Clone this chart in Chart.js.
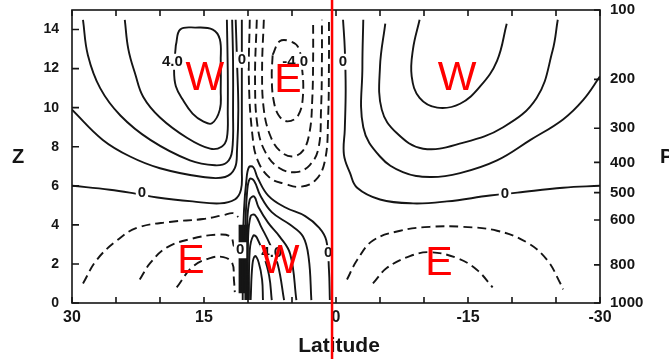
<!DOCTYPE html>
<html>
<head>
<meta charset="utf-8">
<script src="https://cdn.jsdelivr.net/npm/chart.js@4.4.1/dist/chart.umd.min.js"></script>
<style>
  html, body { margin: 0; padding: 0; background: #fff; }
</style>
</head>
<body>
<canvas id="grafik" width="669" height="359"></canvas>
<script>
// eksen degerleri
const latTicks = [30, 25, 20, 15, 10, 5, 0, -5, -10, -15, -20, -25, -30];
const latLabels = [30, 15, 0, -15, -30];
const zTicks = [0, 2, 4, 6, 8, 10, 12, 14];
const pressureLevels = [100, 200, 300, 400, 500, 600, 800, 1000];
const pressureHeights = [15, 11.45, 8.95, 7.2, 5.65, 4.25, 1.95, 0];

// kuzey batili jet (duz cizgiler) [enlem, z]
const wN40 = [[18.2,13.2],[17.7,14],[16,14.1],[14,14],[13.2,13.5],[13.1,12.4],[13.1,10.9],[13.2,9.9],[14.1,9.2],[15.1,9.3],[16.3,9.7],[17.4,10.4],[18.2,11.1],[18.4,11.9],[18.2,13.2]];
const wN30 = [[24,14.5],[23.6,13],[22.8,11.7],[21.9,10.55],[20,9.5],[16.9,8.45],[14.3,7.9],[13,8],[12.4,8.45],[12.3,9.9],[12.3,11.9],[12.4,14.5]];
const wN20 = [[28.75,14.5],[28.2,12.7],[26.8,11],[24.5,9.6],[21.1,8.35],[16.6,7.3],[13.75,7.05],[12.4,7.2],[11.8,7.8],[11.7,9.9],[11.7,12.4],[11.8,14.5]];
const wN10 = [[30,9.9],[26.5,8.35],[23.4,7.5],[20,6.9],[15.1,6.45],[12.6,6.45],[11.5,6.9],[11.25,7.8],[11.1,9.9],[11.25,12.4],[11.4,14.5]];
const zeroN = [[30,6],[25.7,5.8],[22.8,5.6],[20.3,5.4],[16.3,5.2],[13.2,5.1],[11.5,5.3],[10.8,5.8],[10.7,6.8],[10.7,9.3],[10.7,11.4],[10.7,14.5]];

// ust dogulu bolge (kesikli)
const eTop40 = [[7.2,12.7],[6.4,13.4],[5.2,13.4],[4.3,13.1],[3.9,12.2],[3.75,10.65],[4.3,9.6],[5.5,9.3],[6.5,9.6],[7.1,10.4],[7.3,11.6],[7.2,12.7]];
const eTop30 = [[8.2,14.5],[8.4,11.9],[8.2,9.9],[7.5,8.6],[6.4,7.8],[5,7.5],[3.75,7.8],[3,8.75],[2.7,10.4],[2.6,12.4],[2.6,14.5]];
const eTop20 = [[9,14.5],[9.2,11.4],[8.9,9],[8,7.7],[6.4,6.9],[4.5,6.7],[3,7.05],[2,7.9],[1.7,9.9],[1.6,12.4],[1.6,14.5]];
const eTop10 = [[9.8,14.5],[9.9,11.4],[9.5,8.6],[8.9,7.3],[7.5,6.4],[5.8,6.1],[4.1,5.95],[2.3,6.3],[1.25,7.3],[0.9,9.4],[0.8,12.4],[0.8,14.5]];

// guney batili jet
const zeroS = [[-0.8,14.5],[-1,13],[-1.1,10.9],[-1,8.9],[-0.9,7.6],[-1.6,6.65],[-2.4,5.9],[-5,5.3],[-8.75,5.1],[-12.6,5.2],[-17.5,5.5],[-20.6,5.65],[-25.8,5.9],[-30,6]];
const wS10 = [[-3.1,14.5],[-3,12.1],[-3.1,9],[-5,7.5],[-7.6,6.7],[-10.7,6.45],[-14.1,6.65],[-18.3,7.3],[-22.1,8.35],[-25.8,9.4],[-28.1,10.4],[-30,11.6]];
const wS20 = [[-5.6,14.3],[-5,12.1],[-5.2,9.9],[-6.9,8.7],[-9.9,7.9],[-14.4,8.2],[-19,9],[-22.8,10.5],[-24.6,12.9],[-25.2,14.5]];
const wS30 = [[-9.5,14.5],[-8.75,13],[-8.6,11.6],[-9.5,10.5],[-11.5,10],[-14.1,10.2],[-16.4,11.1],[-18.3,12.4],[-19.4,14.3]];

// alt dogulu bolgeler (kesikli)
const eS10 = [[-1.25,1.2],[-2.4,2.2],[-4.2,3.2],[-7.3,3.7],[-10.7,3.9],[-14.4,3.9],[-18.3,3.7],[-21.7,3.1],[-24,2.2],[-25.5,1],[-25.8,0.7]];
const eS20 = [[-4.2,1],[-5.8,1.8],[-8.4,2.4],[-10.7,2.6],[-13.75,2.3],[-16,1.7],[-17.8,0.8]];
const eN10 = [[28.75,1],[27.2,2.2],[24.9,3.2],[22.6,3.85],[18.9,4.15],[15.1,4.3],[12.8,4.5],[11.7,4.6],[11.1,4.4]];
const eN20 = [[22.3,1.2],[21.1,2.05],[19.2,2.85],[16.3,3.3],[13.5,3.5],[12,3.4],[11.6,2.9]];
const eN30 = [[18.1,0.8],[16.3,1.85],[14.3,2.3],[12.8,2.35],[11.8,2.05],[11.6,1.2],[11.5,0.56]];

// alt batili bolge (duz)
const zeroLow = [[10.6,0.15],[10.6,2.7],[10.45,4.8],[10.2,6.2],[9.9,6.95],[9.4,6.95],[8.9,6.4],[7.7,5.5],[5.8,4.9],[3.5,4.45],[1.9,3.85],[1.1,3.2],[0.8,1.7],[0.7,0.15]];
const wLow10 = [[10.3,0.15],[10.3,3.7],[10.1,5.7],[9.8,6.35],[9.3,6.25],[8.6,5.5],[7.3,4.65],[5.2,4],[3.75,3.4],[3.1,2.3],[2.8,0.15]];
const wLow20 = [[10.2,0.15],[10.1,4],[9.8,5.3],[9.3,5.45],[8.8,4.9],[7.7,4.1],[6.4,3.4],[5.2,2.5],[4.5,0.15]];
const wLow30 = [[10.1,0.15],[10,3.2],[9.7,4.45],[9.2,4.5],[8.5,3.9],[7.5,3],[6.6,1.95],[5.9,0.15]];
const wLow40 = [[9.9,0.15],[9.8,2.7],[9.4,3.45],[9,3.35],[8.3,2.55],[7.6,1.4],[7.3,0.15]];
const wLow50 = [[9.7,0.15],[9.5,1.95],[9.2,2.4],[8.8,2.1],[8.4,1.2],[8.3,0.15]];
const bundle = [[10.5,4.0],[10.5,0.5]];

// cizgi uzerindeki etiketler
const contourLabels = [
  { x: 18.6, y: 12.35, t: "4.0" },
  { x: 4.65, y: 12.35, t: "-4.0" },
  { x: 10.7, y: 12.45, t: "0" },
  { x: -0.8, y: 12.35, t: "0" },
  { x: 22.05, y: 5.63, t: "0" },
  { x: -19.2, y: 5.58, t: "0" },
  { x: 10.9, y: 2.7, t: "0" },
  { x: 0.9, y: 2.55, t: "0" },
  { x: 7.3, y: 2.55, t: "4.0" }
];

// kirmizi notlar
const windLetters = [
  { x: 14.9, y: 11.5, t: "W" },
  { x: 5.45, y: 11.4, t: "E" },
  { x: -13.75, y: 11.5, t: "W" },
  { x: 16.5, y: 2.1, t: "E" },
  { x: 6.35, y: 2.1, t: "W" },
  { x: -11.7, y: 2.0, t: "E" }
];
const redLineLat = 0.45;

const solidLines = [wN40, wN30, wN20, wN10, zeroN, zeroS, wS10, wS20, wS30, zeroLow, wLow10, wLow20, wLow30, wLow40, wLow50];
const dashedLines = [eTop40, eTop30, eTop20, eTop10, eS10, eS20, eN10, eN20, eN30];

const ink = "#151515";

function seriYap(pts, dashed) {
  return {
    data: pts.map(p => ({ x: p[0], y: p[1] })),
    showLine: true,
    borderColor: ink,
    borderWidth: 1.9,
    borderDash: dashed ? [9, 5] : [],
    pointRadius: 0,
    tension: 0.4,
    fill: false
  };
}

const datasets = [];
solidLines.forEach(l => datasets.push(seriYap(l, false)));
dashedLines.forEach(l => datasets.push(seriYap(l, true)));
const kalin = seriYap(bundle, false);
kalin.borderWidth = 10;
kalin.tension = 0;
datasets.push(kalin);

// cerceve, ic tikler, etiketler
const cizimEklentisi = {
  id: "cizim",
  afterDatasetsDraw(chart) {
    const ctx = chart.ctx;
    const xs = chart.scales.x, ys = chart.scales.y;
    ctx.save();
    ctx.font = "bold 15px 'Liberation Sans', Arial, sans-serif";
    ctx.textAlign = "center";
    ctx.textBaseline = "middle";
    contourLabels.forEach(l => {
      const px = xs.getPixelForValue(l.x), py = ys.getPixelForValue(l.y);
      const w = ctx.measureText(l.t).width;
      ctx.fillStyle = "#fff";
      ctx.fillRect(px - w / 2 - 2, py - 8, w + 4, 16);
      ctx.fillStyle = ink;
      ctx.fillText(l.t, px, py);
    });
    ctx.restore();
  },
  afterDraw(chart) {
    const ctx = chart.ctx;
    const a = chart.chartArea;
    const xs = chart.scales.x, ys = chart.scales.y;
    ctx.save();
    ctx.strokeStyle = ink;
    ctx.lineWidth = 1.6;
    ctx.strokeRect(a.left, a.top, a.right - a.left, a.bottom - a.top);
    ctx.beginPath();
    latTicks.forEach(v => {
      const px = xs.getPixelForValue(v);
      ctx.moveTo(px, a.bottom); ctx.lineTo(px, a.bottom - 6);
      ctx.moveTo(px, a.top); ctx.lineTo(px, a.top + 6);
    });
    zTicks.forEach(v => {
      const py = ys.getPixelForValue(v);
      ctx.moveTo(a.left, py); ctx.lineTo(a.left + 7, py);
    });
    pressureHeights.forEach(v => {
      const py = ys.getPixelForValue(v);
      ctx.moveTo(a.right, py); ctx.lineTo(a.right - 6, py);
    });
    ctx.stroke();

    ctx.fillStyle = ink;
    ctx.textBaseline = "middle";
    ctx.font = "bold 21px 'Liberation Sans', Arial, sans-serif";
    ctx.textAlign = "center";
    ctx.fillText("Latitude", (a.left + a.right) / 2 + 3, 346);
    ctx.font = "bold 20px 'Liberation Sans', Arial, sans-serif";
    ctx.fillText("Z", 18, 157);
    ctx.textAlign = "left";
    ctx.fillText("P", 660, 157);

    ctx.fillStyle = "#ff0000";
    ctx.textAlign = "center";
    ctx.font = "41px 'Liberation Sans', Arial, sans-serif";
    windLetters.forEach(l => {
      ctx.fillText(l.t, xs.getPixelForValue(l.x), ys.getPixelForValue(l.y));
    });

    const rx = xs.getPixelForValue(redLineLat);
    ctx.strokeStyle = "#ff0000";
    ctx.lineWidth = 2.5;
    ctx.beginPath();
    ctx.moveTo(rx, 0);
    ctx.lineTo(rx, chart.height);
    ctx.stroke();
    ctx.restore();
  }
};

const tickFont = { family: "'Liberation Sans', Arial, sans-serif", weight: "bold" };
const noGrid = { display: false, drawTicks: false };

new Chart(document.getElementById("grafik"), {
  type: "scatter",
  data: { datasets },
  options: {
    responsive: false,
    animation: false,
    layout: { padding: { top: 10, left: 0, right: 0, bottom: 0 } },
    plugins: { legend: { display: false }, tooltip: { enabled: false } },
    scales: {
      x: {
        type: "linear", min: -30, max: 30, reverse: true,
        grid: noGrid, border: { display: false },
        afterBuildTicks: s => { s.ticks = latLabels.map(v => ({ value: v })); },
        ticks: { color: ink, padding: 5, font: { ...tickFont, size: 16 }, maxRotation: 0 },
        afterFit: s => { s.height = 56; s.paddingLeft = 0; s.paddingRight = 0; }
      },
      y: {
        type: "linear", min: 0, max: 15, position: "left",
        grid: noGrid, border: { display: false },
        afterBuildTicks: s => { s.ticks = zTicks.map(v => ({ value: v })); },
        ticks: { color: ink, padding: 13, font: { ...tickFont, size: 14 } },
        afterFit: s => { s.width = 72; s.paddingTop = 0; s.paddingBottom = 0; }
      },
      y2: {
        type: "linear", min: 0, max: 15, position: "right",
        grid: noGrid, border: { display: false },
        afterBuildTicks: s => { s.ticks = pressureHeights.map(v => ({ value: v })); },
        ticks: { color: ink, padding: 10, font: { ...tickFont, size: 15 },
          callback: (v, i) => pressureLevels[i] },
        afterFit: s => { s.width = 69; s.paddingTop = 0; s.paddingBottom = 0; }
      }
    }
  },
  plugins: [cizimEklentisi]
});
</script>
</body>
</html>
